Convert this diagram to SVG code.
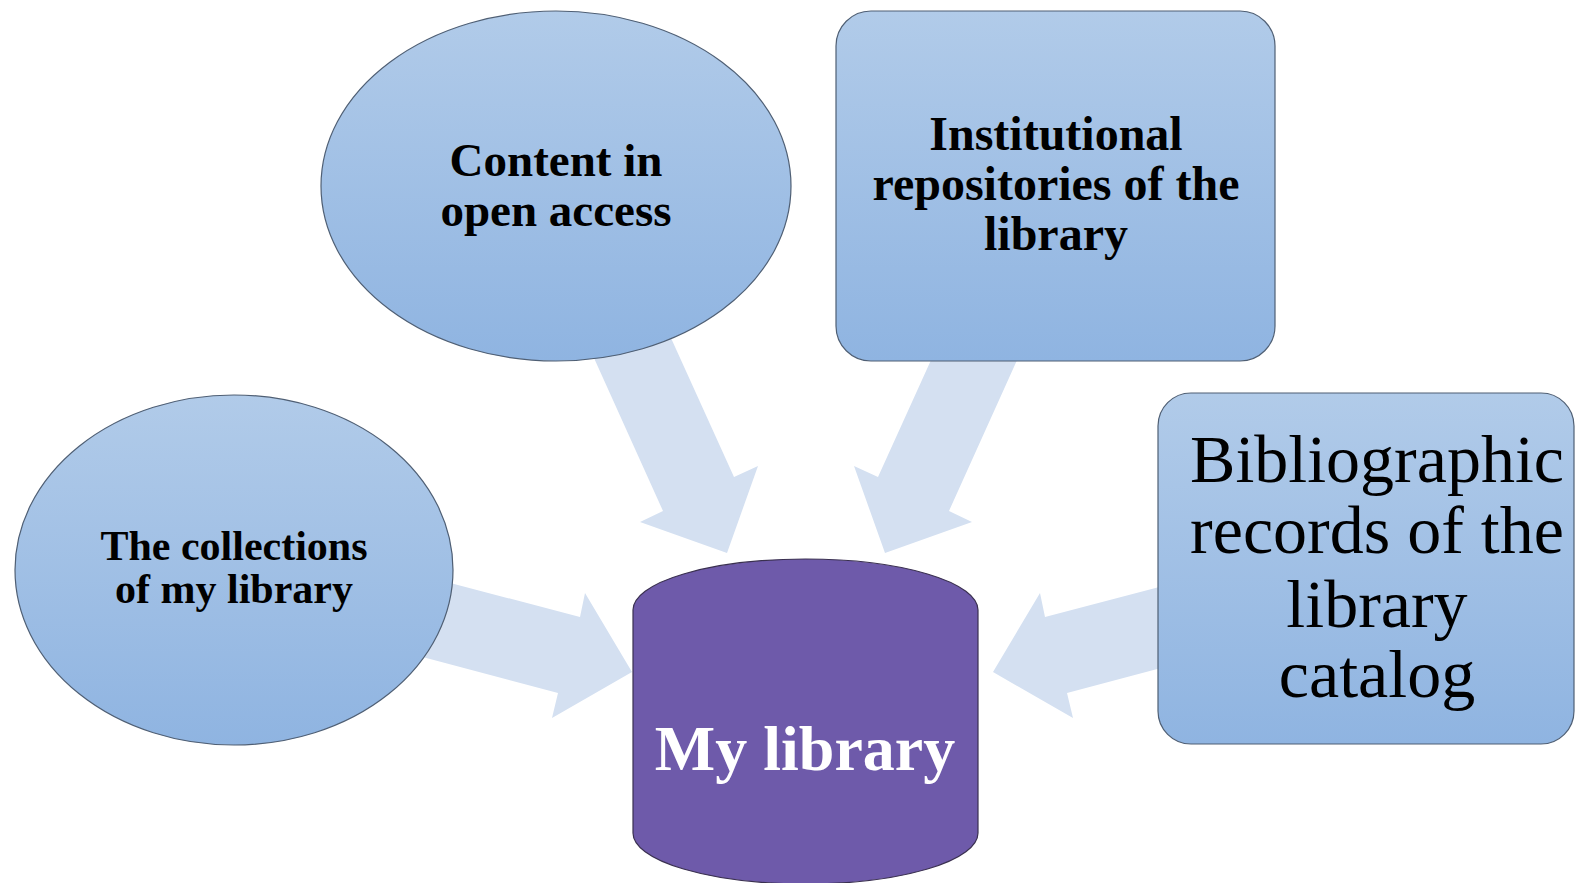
<svg xmlns="http://www.w3.org/2000/svg" width="1575" height="883" viewBox="0 0 1575 883">
  <defs>
    <linearGradient id="blueFill" x1="0" y1="0" x2="0" y2="1">
      <stop offset="0" stop-color="#b1cbe9"/>
      <stop offset="1" stop-color="#8fb4e1"/>
    </linearGradient>
    <style>
      .node { fill: url(#blueFill); stroke: #4f5f74; stroke-width: 1.2; }
      .arrow { fill: #d4e0f1; stroke: none; }
      .cyl { fill: #6e5aaa; stroke: #3a3050; stroke-width: 1.2; }
      .lbl { font-family: "Liberation Serif", "Times New Roman", serif; font-weight: bold; fill: #000; text-anchor: middle; }
      .lblr { font-family: "Liberation Serif", "Times New Roman", serif; font-weight: normal; fill: #000; text-anchor: middle; }
      .lblw { font-family: "Liberation Serif", "Times New Roman", serif; font-weight: bold; fill: #ffffff; text-anchor: middle; }
    </style>
  </defs>
  <rect width="1575" height="883" fill="#ffffff"/>

  <g id="connectors">
    <polygon class="arrow" points="580,327 663,511 640,522 727,553 758,466 734,477 666,327"/>
    <polygon class="arrow" points="1032,327 949,511 972,522 885,553 854,466 878,477 946,327"/>
    <polygon class="arrow" points="420,575 580,617 585,593 632,672 552,718 558,693 400,651"/>
    <polygon class="arrow" points="1205,575 1045,617 1040,593 993,672 1073,718 1067,693 1225,651"/>
  </g>

  <g id="node-open-access">
    <ellipse class="node" cx="556" cy="186" rx="235" ry="175"/>
    <text class="lbl" x="556" y="176" font-size="47">Content in</text>
    <text class="lbl" x="556" y="226" font-size="47">open access</text>
  </g>

  <g id="node-institutional">
    <rect class="node" x="836" y="11" width="439" height="350" rx="35" ry="35"/>
    <text class="lbl" x="1056" y="150" font-size="48">Institutional</text>
    <text class="lbl" x="1056" y="200" font-size="48">repositories of the</text>
    <text class="lbl" x="1056" y="250" font-size="48">library</text>
  </g>

  <g id="node-collections">
    <ellipse class="node" cx="234" cy="570" rx="219" ry="175"/>
    <text class="lbl" x="234" y="560" font-size="42">The collections</text>
    <text class="lbl" x="234" y="603" font-size="42">of my library</text>
  </g>

  <g id="node-catalog">
    <rect class="node" x="1158" y="393" width="416" height="351" rx="33" ry="33"/>
    <text class="lblr" x="1377" y="482" font-size="68">Bibliographic</text>
    <text class="lblr" x="1377" y="553" font-size="68">records of the</text>
    <text class="lblr" x="1377" y="627" font-size="68">library</text>
    <text class="lblr" x="1377" y="697" font-size="68">catalog</text>
  </g>

  <g id="node-my-library">
    <path class="cyl" d="M 633 610 A 172.5 51 0 0 1 978 610 L 978 833 A 172.5 51 0 0 1 633 833 Z"/>
    <text class="lblw" x="805" y="770" font-size="64">My library</text>
  </g>
</svg>
